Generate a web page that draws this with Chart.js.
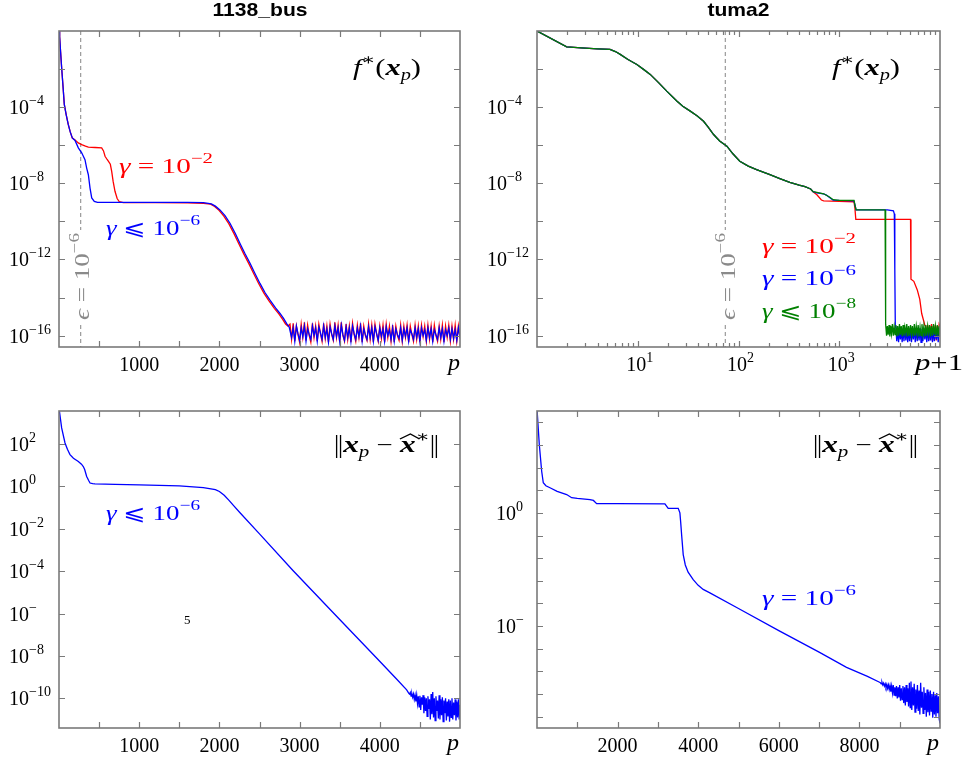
<!DOCTYPE html>
<html>
<head>
<meta charset="utf-8">
<script src="https://cdn.jsdelivr.net/npm/chart.js@4.4.1/dist/chart.umd.min.js"></script>
<style>
body { margin: 0; background: #fff; }
#wrap { position: relative; width: 966px; height: 764px; }
canvas { position: absolute; left: 0; top: 0; }
</style>
</head>
<body>
<div id="wrap">
<canvas id="c1" width="966" height="764"></canvas>
<canvas id="c2" width="966" height="764"></canvas>
<canvas id="c3" width="966" height="764"></canvas>
<canvas id="c4" width="966" height="764"></canvas>
</div>
<script>
// ---- data, y values stored as log10 ----
// 1138_bus, f*(x_p)
const busRedP = [0, 8, 20, 33, 50, 66, 90, 116, 140, 166, 200, 240, 283, 330, 366, 450, 532, 555, 574, 600, 615, 640, 657, 675, 698, 725, 752, 800, 1200, 1600, 1800, 1890, 1940, 1995, 2055, 2117, 2185, 2242, 2305, 2367, 2430, 2491, 2555, 2616, 2685, 2741, 2785, 2825, 2855];
const busRedLog = [1.0, -0.3, -1.1, -1.93, -2.9, -3.86, -4.4, -4.92, -5.3, -5.62, -5.72, -5.88, -5.97, -6.05, -6.1, -6.12, -6.14, -6.3, -6.58, -6.75, -6.84, -7.0, -7.37, -7.9, -8.42, -8.8, -8.97, -9.02, -9.02, -9.03, -9.05, -9.1, -9.22, -9.42, -9.72, -10.12, -10.67, -11.18, -11.72, -12.22, -12.77, -13.28, -13.77, -14.16, -14.57, -14.86, -15.12, -15.39, -15.5];
const busBlueP = [0, 8, 20, 33, 50, 66, 90, 116, 140, 166, 200, 241, 283, 324, 345, 366, 387, 408, 440, 480, 800, 1200, 1600, 1800, 1900, 1950, 2007, 2070, 2132, 2200, 2257, 2320, 2382, 2445, 2506, 2570, 2631, 2700, 2756, 2800, 2839, 2870];
const busBlueLog = [1.0, -0.3, -1.1, -1.93, -2.9, -3.86, -4.4, -4.92, -5.3, -5.62, -5.75, -6.14, -6.4, -6.76, -7.2, -7.55, -8.25, -8.77, -8.95, -9.0, -9.0, -9.0, -9.0, -9.02, -9.08, -9.2, -9.4, -9.7, -10.1, -10.65, -11.16, -11.7, -12.2, -12.75, -13.26, -13.75, -14.14, -14.55, -14.84, -15.1, -15.37, -15.55];
// noisy floor, iterations 2880, 2900, ... 5000
const busNoiseStart = 2880, busNoiseStep = 20;
const busRedNoise = [
  -15.4, -16.2, -15.35, -16.3, -15.5, -15.95, -16.35, -15.4, -16.1, -15.3,
  -16.25, -15.45, -16.0, -16.35, -15.35, -16.1, -15.5, -16.3, -15.4, -15.9,
  -16.3, -15.35, -16.15, -15.5, -16.35, -15.4, -15.95, -16.25, -15.3, -16.1,
  -15.45, -16.35, -15.3, -16.0, -16.3, -15.4, -16.2, -15.5, -16.35, -15.35,
  -15.95, -16.3, -15.45, -16.1, -15.35, -16.35, -15.5, -16.0, -16.25, -15.4,
  -16.2, -15.45, -16.35, -15.4, -15.9, -16.3, -15.5, -16.15, -15.45, -16.35,
  -15.4, -16.1, -15.5, -16.3, -15.45, -16.35, -15.5, -16.0, -16.25, -15.45,
  -16.3, -15.5, -16.1, -15.45, -16.35, -15.5, -15.95, -16.3, -15.45, -16.2,
  -15.5, -16.35, -15.45, -16.05, -15.5, -16.3, -15.45, -16.2, -15.5, -16.35,
  -15.45, -16.0, -16.3, -15.5, -16.2, -15.45, -16.35, -15.5, -16.1, -15.45,
  -16.3, -15.5, -16.2, -15.45, -16.3, -15.5, -16.15];
const busBlueNoise = [
  -15.55, -16.1, -15.6, -16.3, -15.5, -15.9, -16.25, -15.6, -16.05, -15.5,
  -16.3, -15.65, -15.95, -16.2, -15.5, -16.0, -15.6, -16.3, -15.55, -15.85,
  -16.2, -15.5, -16.1, -15.65, -16.35, -15.55, -15.9, -16.2, -15.5, -16.05,
  -15.6, -16.3, -15.45, -15.95, -16.25, -15.55, -16.1, -15.6, -16.3, -15.5,
  -15.9, -16.2, -15.6, -16.05, -15.5, -16.3, -15.65, -15.95, -16.2, -15.55,
  -16.1, -15.6, -16.3, -15.55, -15.9, -16.25, -15.6, -16.05, -15.65, -16.3,
  -15.55, -16.0, -15.7, -16.2, -15.6, -16.3, -15.65, -15.95, -16.15, -15.6,
  -16.25, -15.65, -16.05, -15.6, -16.3, -15.7, -15.9, -16.2, -15.6, -16.1,
  -15.65, -16.3, -15.6, -16.0, -15.7, -16.25, -15.6, -16.1, -15.65, -16.3,
  -15.7, -15.95, -16.2, -15.6, -16.1, -15.65, -16.3, -15.7, -16.0, -15.6,
  -16.2, -15.65, -16.15, -15.7, -16.25, -15.6, -16.05];

// tuma2, f*(x_p), x = p+1
const tumaX = [1, 1.97, 3, 4, 5.3, 6.0, 6.7, 8, 9.8, 11.5, 13.3, 16, 19.4, 24.4, 28, 33.2, 39, 45, 50, 56.6, 65, 76.7, 88, 103, 125, 151, 205, 257, 323, 400, 457, 520, 550];
const tumaLog = [0.0, -0.83, -0.9, -0.94, -0.97, -1.08, -1.23, -1.5, -1.76, -2.03, -2.28, -2.7, -3.16, -3.68, -3.95, -4.21, -4.46, -4.74, -5.05, -5.44, -5.78, -6.05, -6.45, -6.84, -7.1, -7.28, -7.55, -7.75, -7.95, -8.1, -8.18, -8.3, -8.44];
const tumaRedX = [600, 665, 700, 1000, 1400, 1430, 1460, 2000, 3000, 5100, 5150, 5500, 5950, 6300, 6580, 7080];
const tumaRedLog = [-8.6, -8.88, -8.92, -8.95, -8.97, -9.3, -9.9, -9.9, -9.9, -9.9, -13.04, -13.15, -13.6, -14.1, -14.84, -15.46];
const tumaBlueX = [600, 700, 745, 800, 870, 1000, 1400, 1440, 1470, 2000, 3000, 3450, 3520, 3560, 3600];
const tumaBlueLog = [-8.5, -8.55, -8.62, -8.75, -8.88, -8.9, -8.92, -9.2, -9.4, -9.4, -9.4, -9.45, -9.6, -12.5, -15.5];
const tumaGreenX = [600, 700, 800, 870, 1000, 1400, 1440, 1470, 2000, 2850, 2870, 2890];
const tumaGreenLog = [-8.48, -8.55, -8.72, -8.86, -8.9, -8.9, -9.2, -9.4, -9.4, -9.4, -12.5, -15.3];
const tumaNoiseX = [2900, 2950, 3000, 3060, 3120, 3180, 3240, 3300, 3370, 3440, 3510, 3580, 3650, 3720, 3800, 3880, 3960, 4040, 4120, 4210,
  4300, 4390, 4480, 4580, 4680, 4780, 4880, 4990, 5100, 5210, 5320, 5440, 5560, 5680, 5810, 5940, 6070, 6200, 6340, 6480,
  6620, 6770, 6920, 7070, 7230, 7390, 7550, 7720, 7890, 8060, 8240, 8420, 8610, 8800, 8990, 9190, 9390, 9600, 9810, 10000];
const tumaGreenNoise = [-15.4, -16.0, -15.5, -15.95, -15.45, -16.05, -15.5, -15.9, -15.4, -16.0,
  -15.55, -15.95, -15.45, -16.05, -15.5, -16.0, -15.4, -15.95, -15.5, -16.05,
  -15.45, -16.0, -15.55, -15.9, -15.4, -16.05, -15.5, -16.0, -15.45, -15.95,
  -15.5, -16.05, -15.4, -16.0, -15.5, -15.95, -15.45, -16.05, -15.55, -16.0,
  -15.4, -15.95, -15.5, -16.05, -15.45, -16.0, -15.5, -15.9, -15.45, -16.05,
  -15.5, -16.0, -15.4, -15.95, -15.5, -16.05, -15.45, -16.0, -15.5, -16.05];
const tumaBlueNoise = [-15.6, -16.3, -15.7, -16.35, -15.6, -16.2, -15.7, -16.35, -15.65, -16.3,
  -15.6, -16.25, -15.7, -16.35, -15.65, -16.3, -15.6, -16.35, -15.7, -16.2,
  -15.6, -16.35, -15.65, -16.3, -15.7, -16.25, -15.6, -16.35, -15.65, -16.3,
  -15.6, -16.2, -15.7, -16.35, -15.6, -16.3, -15.65, -16.25, -15.6, -16.35,
  -15.7, -16.3, -15.6, -16.2, -15.65, -16.35, -15.6, -15.55];
const tumaRedNoise = [-15.5, -16.1, -15.45, -16.25, -15.5, -16.0, -15.4, -16.3, -15.5, -16.15, -15.45, -16.25, -15.5, -16.1, -15.4, -15.5];

// 1138_bus, ||x_p - x^*||
const resBusP = [0, 33, 75, 105, 137, 180, 241, 280, 303, 320, 345, 370, 387, 420, 449, 700, 1000, 1500, 1800, 1950, 2000, 2060, 2120, 2180, 2257, 2500, 2920, 3500, 3960, 4200, 4335];
const resBusLog = [3.7, 2.76, 2.05, 1.75, 1.5, 1.33, 1.18, 1.05, 0.94, 0.8, 0.47, 0.28, 0.16, 0.13, 0.12, 0.1, 0.07, 0.03, -0.06, -0.15, -0.24, -0.42, -0.66, -0.92, -1.24, -2.24, -3.98, -6.28, -8.1, -9.05, -9.6];
const resBusNoiseStart = 4360, resBusNoiseStep = 10;
const resBusNoise = [
  -9.75, -9.8, -9.72, -9.9, -9.78, -9.95, -9.8, -10.05, -9.85, -10.15,
  -9.85, -10.25, -9.9, -10.4, -9.88, -10.55, -9.95, -10.3, -9.85, -10.7,
  -9.95, -10.6, -10.0, -10.85, -9.9, -10.5, -10.05, -11.0, -9.8, -10.75,
  -9.7, -10.9, -10.0, -11.05, -9.9, -10.6, -10.1, -10.95, -9.85, -11.0,
  -10.05, -10.8, -9.95, -11.1, -10.1, -10.7, -10.0, -11.05, -10.15, -10.85,
  -10.05, -11.1, -10.1, -10.9, -10.0, -11.0, -10.2, -10.8, -10.05, -11.05,
  -10.15, -10.9, -10.05, -11.0, -10.3];

// tuma2, ||x_p - x^*||
const resTumaP = [0, 57, 116, 156, 220, 322, 500, 736, 860, 1000, 1314, 1400, 1480, 2000, 3174, 3256, 3504, 3546, 3565, 3590, 3628, 3680, 3750, 3876, 4000, 4124, 4290, 5000, 6000, 7000, 7680, 8200, 8500];
const resTumaLog = [4.6, 3.02, 1.84, 1.33, 1.2, 1.11, 0.95, 0.81, 0.67, 0.64, 0.59, 0.55, 0.41, 0.41, 0.4, 0.2, 0.2, 0.0, -0.4, -1.0, -1.84, -2.3, -2.62, -2.95, -3.2, -3.38, -3.53, -4.22, -5.2, -6.15, -6.82, -7.22, -7.48];
const resTumaNoiseStart = 8520, resTumaNoiseStep = 20;
const resTumaNoise = [
  -7.5, -7.55, -7.48, -7.6, -7.52, -7.65, -7.55, -7.7, -7.58, -7.75,
  -7.6, -7.8, -7.62, -7.9, -7.65, -7.95, -7.6, -8.05, -7.7, -8.1,
  -7.65, -8.2, -7.7, -8.15, -7.6, -8.3, -7.75, -8.25, -7.65, -8.4,
  -7.7, -8.5, -7.6, -8.35, -7.75, -8.55, -7.5, -8.6, -7.45, -8.7,
  -7.7, -8.5, -7.55, -8.8, -7.8, -8.65, -7.6, -8.75, -7.85, -8.9,
  -7.5, -8.6, -7.9, -8.85, -7.7, -8.7, -7.95, -9.0, -7.8, -8.8,
  -7.9, -8.95, -7.85, -8.75, -8.0, -9.05, -7.9, -8.9, -8.05, -9.0,
  -7.95, -8.85, -8.1, -9.1, -9.3];

// ticks
const busTickX = [500, 1000, 1500, 2000, 2500, 3000, 3500, 4000, 4500];
const busLabelX = [1000, 2000, 3000, 4000];
const fTickExp = [-2, -4, -6, -8, -10, -12, -14, -16];
const fLabelExp = [-4, -8, -12, -16];
const tumaMajorX = [10, 100, 1000];
const tumaMajorExp = ['1', '2', '3'];
const tumaMinorX = [2, 3, 4, 5, 6, 7, 8, 9, 20, 30, 40, 50, 60, 70, 80, 90, 200, 300, 400, 500, 600, 700, 800, 900, 2000, 3000, 4000, 5000, 6000, 7000, 8000, 9000];
const resBusTickExp = [2, 0, -2, -4, -6, -8, -10];
const resBusLabel = ['2', '0', '\u22122', '\u22124', '\u2212', '\u22128', '\u221210'];
const resTumaTickX = [1000, 2000, 3000, 4000, 5000, 6000, 7000, 8000, 9000];
const resTumaLabelX = [2000, 4000, 6000, 8000];
const resTumaTickExp = [4, 3, 2, 1, 0, -1, -2, -3, -4, -5, -6, -7, -8, -9];
const resTumaLabelExp = [0, -5];
const resTumaLabel = ['0', '\u2212'];
const epsMarkBus = 270, epsMarkTuma = 74;

// ---- drawing helpers ----
const MATH = '"Liberation Serif", "DejaVu Serif", "DejaVu Sans", serif';
const fnt = (size, style) => (style ? style + ' ' : '') + size + 'px ' + MATH;
const RED = '#ff0000', BLUE = '#0000ff', GREEN = '#008000', GREY = '#8a8a8a';

function rich(ctx, parts, x, y, o) {
  o = o || {};
  let total = 0;
  const ws = parts.map(p => {
    if (p[3] === 'bars') { total += 7; return 7; }
    ctx.font = p[1];
    const w = ctx.measureText(p[0]).width;
    total += w;
    return w;
  });
  const s = o.width ? o.width / total : 1;
  let x0 = x;
  if (o.align === 'center') x0 = x - total * s / 2;
  if (o.align === 'right') x0 = x - total * s;
  ctx.save();
  ctx.translate(x0, y);
  ctx.scale(s, 1);
  ctx.textAlign = 'left';
  ctx.textBaseline = 'alphabetic';
  let cx = 0;
  parts.forEach((p, i) => {
    if (p[3] === 'bars') {
      ctx.beginPath();
      ctx.moveTo(cx + 2, -17); ctx.lineTo(cx + 2, 6);
      ctx.moveTo(cx + 5, -17); ctx.lineTo(cx + 5, 6);
      ctx.lineWidth = 1;
      ctx.strokeStyle = ctx.fillStyle;
      ctx.stroke();
      cx += ws[i];
      return;
    }
    ctx.font = p[1];
    ctx.fillText(p[0], cx, p[2] || 0);
    if (p[3] === 'hat') {
      ctx.beginPath();
      ctx.moveTo(cx, -13);
      ctx.lineTo(cx + ws[i] / 2 + 2, -18);
      ctx.lineTo(cx + ws[i] + 3, -13);
      ctx.lineWidth = 1.1;
      ctx.strokeStyle = ctx.fillStyle;
      ctx.stroke();
    }
    cx += ws[i];
  });
  ctx.restore();
}

function pow10(ctx, exp, x, y, align) {
  rich(ctx, [['10', fnt(20)], [exp, fnt(14), -9]], x, y, { align: align });
}

function frame(chart, t) {
  const { ctx, chartArea: a, scales: { x, y } } = chart;
  ctx.save();
  ctx.strokeStyle = '#7a7a7a';
  ctx.lineWidth = 1.2;
  ctx.beginPath();
  const vx = (v, len) => {
    const px = Math.round(x.getPixelForValue(v)) + 0.5;
    ctx.moveTo(px, a.bottom); ctx.lineTo(px, a.bottom - len);
    ctx.moveTo(px, a.top); ctx.lineTo(px, a.top + len);
  };
  t.xTicks.forEach(v => vx(v, 6));
  (t.xMinor || []).forEach(v => vx(v, 4));
  t.yTicks.forEach(e => {
    const py = Math.round(y.getPixelForValue(Math.pow(10, e))) + 0.5;
    ctx.moveTo(a.left, py); ctx.lineTo(a.left + 6, py);
    ctx.moveTo(a.right, py); ctx.lineTo(a.right - 6, py);
  });
  ctx.stroke();
  ctx.lineWidth = 1.6;
  ctx.strokeRect(a.left, a.top, a.right - a.left, a.bottom - a.top);
  ctx.restore();
}

function dashed(chart, v) {
  const { ctx, chartArea: a, scales: { x } } = chart;
  const px = x.getPixelForValue(v);
  ctx.save();
  ctx.strokeStyle = '#9a9a9a';
  ctx.lineWidth = 1.2;
  ctx.setLineDash([4, 3]);
  ctx.beginPath();
  ctx.moveTo(px, a.top); ctx.lineTo(px, a.bottom);
  ctx.stroke();
  ctx.restore();
}

function epsLabel(ctx, bx, by) {
  ctx.save();
  ctx.translate(bx, by);
  ctx.rotate(-Math.PI / 2);
  ctx.fillStyle = '#fff';
  ctx.fillRect(-3, -23, 93, 27);
  ctx.fillStyle = GREY;
  rich(ctx, [['\u03f5', fnt(20, 'italic')], [' = ', fnt(20)], ['10', fnt(20)], ['\u22126', fnt(14), -10]], 0, 0, { width: 87 });
  ctx.restore();
}

function gammaLabel(ctx, rel, exp, color, x, y) {
  ctx.fillStyle = color;
  rich(ctx, [['\u03b3', fnt(21, 'italic')], [rel, fnt(21)], ['10', fnt(21)], [exp, fnt(15), -10]], x, y, { width: 94 });
}

function fLabel(ctx, x, y) {
  ctx.fillStyle = '#000';
  rich(ctx, [['f', fnt(24, 'italic')], ['\u2217', fnt(16), -10], ['(', fnt(24)], ['x', fnt(24, 'italic bold')], ['p', fnt(16, 'italic'), 5], [')', fnt(24)]], x, y, { width: 68 });
}

function normLabel(ctx, x, y) {
  ctx.fillStyle = '#000';
  rich(ctx, [['', '', 0, 'bars'], ['x', fnt(24, 'italic bold')], ['p', fnt(16, 'italic'), 5], [' \u2212 ', fnt(22)],
    ['x', fnt(24, 'italic bold'), 0, 'hat'], ['\u2217', fnt(16), -10], ['', '', 0, 'bars']], x, y, { width: 105 });
}

function title(ctx, text, cx, w) {
  ctx.fillStyle = '#000';
  rich(ctx, [[text, 'bold 19px "Liberation Sans", Arial, sans-serif']], cx, 16, { align: 'center', width: w });
}

function pts(xs, logs) { return xs.map((v, i) => ({ x: v, y: Math.pow(10, logs[i]) })); }
function stepPts(start, step, logs) { return logs.map((l, i) => ({ x: start + i * step, y: Math.pow(10, l) })); }
function tailPts(xs, logs) { const off = xs.length - logs.length; return logs.map((l, i) => ({ x: xs[off + i], y: Math.pow(10, l) })); }
function line(data, color) { return { data: data, borderColor: color, borderWidth: 1.3, pointRadius: 0, fill: false }; }

function makeChart(id, area, xs, ys, datasets, deco) {
  return new Chart(document.getElementById(id), {
    type: 'line',
    data: { datasets: datasets },
    options: {
      responsive: false,
      animation: false,
      events: [],
      layout: { padding: { left: area[0], top: area[1], right: 966 - area[2], bottom: 764 - area[3] } },
      plugins: { legend: { display: false }, tooltip: { enabled: false } },
      scales: { x: Object.assign({ display: false }, xs), y: Object.assign({ display: false }, ys) }
    },
    plugins: [deco]
  });
}

// ---- 1138_bus f* ----
makeChart('c1', [59, 31, 460, 347],
  { type: 'linear', min: 0, max: 5000 },
  { type: 'logarithmic', min: Math.pow(10, -16.6), max: 1 },
  [line(pts(busBlueP, busBlueLog).concat(stepPts(busNoiseStart, busNoiseStep, busBlueNoise)), BLUE),
   line(pts(busRedP, busRedLog).concat(stepPts(busNoiseStart, busNoiseStep, busRedNoise)), RED)],
  {
    id: 'deco1',
    beforeDatasetsDraw(chart) { dashed(chart, epsMarkBus); },
    afterDraw(chart) {
      const ctx = chart.ctx, x = chart.scales.x, y = chart.scales.y;
      frame(chart, { xTicks: busTickX, yTicks: fTickExp });
      ctx.fillStyle = '#000';
      busLabelX.forEach(v => rich(ctx, [[String(v), fnt(20)]], x.getPixelForValue(v), 371, { align: 'center' }));
      fLabelExp.forEach(e => pow10(ctx, '\u2212' + (-e), 9, y.getPixelForValue(Math.pow(10, e)) + 7));
      rich(ctx, [['p', fnt(24, 'italic')]], 448, 370);
      title(ctx, '1138_bus', 260, 95);
      fLabel(ctx, 353, 75);
      gammaLabel(ctx, ' = ', '\u22122', RED, 119, 173);
      gammaLabel(ctx, ' \u2a7d ', '\u22126', BLUE, 106, 235);
      epsLabel(ctx, 89, 320);
    }
  });

// ---- tuma2 f* ----
makeChart('c2', [537, 31, 940, 347],
  { type: 'logarithmic', min: 1, max: 10000 },
  { type: 'logarithmic', min: Math.pow(10, -16.6), max: 1 },
  [line(pts(tumaX.concat(tumaGreenX), tumaLog.concat(tumaGreenLog)).concat(tailPts(tumaNoiseX, tumaGreenNoise)), GREEN),
   line(pts(tumaX.concat(tumaBlueX), tumaLog.concat(tumaBlueLog)).concat(tailPts(tumaNoiseX, tumaBlueNoise)), BLUE),
   line(pts(tumaX.concat(tumaRedX), tumaLog.concat(tumaRedLog)).concat(tailPts(tumaNoiseX, tumaRedNoise)), RED)],
  {
    id: 'deco2',
    beforeDatasetsDraw(chart) { dashed(chart, epsMarkTuma); },
    afterDraw(chart) {
      const ctx = chart.ctx, x = chart.scales.x, y = chart.scales.y;
      frame(chart, { xTicks: tumaMajorX, xMinor: tumaMinorX, yTicks: fTickExp });
      ctx.fillStyle = '#000';
      tumaMajorX.forEach((v, i) => pow10(ctx, tumaMajorExp[i], x.getPixelForValue(v) + 2, 371, 'center'));
      fLabelExp.forEach(e => pow10(ctx, '\u2212' + (-e), 487, y.getPixelForValue(Math.pow(10, e)) + 7));
      rich(ctx, [['p', fnt(24, 'italic')], ['+', fnt(24)], ['1', fnt(24)]], 915, 370, { width: 48 });
      title(ctx, 'tuma2', 738.5, 62);
      fLabel(ctx, 832, 75);
      gammaLabel(ctx, ' = ', '\u22122', RED, 762, 253);
      gammaLabel(ctx, ' = ', '\u22126', BLUE, 762, 285);
      gammaLabel(ctx, ' \u2a7d ', '\u22128', GREEN, 762, 318);
      epsLabel(ctx, 735, 320);
    }
  });

// ---- 1138_bus residual ----
makeChart('c3', [59, 411, 460, 728],
  { type: 'linear', min: 0, max: 5000 },
  { type: 'logarithmic', min: Math.pow(10, -11.4), max: Math.pow(10, 3.56) },
  [line(pts(resBusP, resBusLog).concat(stepPts(resBusNoiseStart, resBusNoiseStep, resBusNoise)), BLUE)],
  {
    id: 'deco3',
    afterDraw(chart) {
      const ctx = chart.ctx, x = chart.scales.x, y = chart.scales.y;
      frame(chart, { xTicks: busTickX, yTicks: resBusTickExp });
      ctx.fillStyle = '#000';
      busLabelX.forEach(v => rich(ctx, [[String(v), fnt(20)]], x.getPixelForValue(v), 752, { align: 'center' }));
      resBusTickExp.forEach((e, i) => pow10(ctx, resBusLabel[i], 9, y.getPixelForValue(Math.pow(10, e)) + 7));
      rich(ctx, [['5', fnt(13)]], 184, 624);
      rich(ctx, [['p', fnt(24, 'italic')]], 447, 750);
      normLabel(ctx, 334, 452);
      gammaLabel(ctx, ' \u2a7d ', '\u22126', BLUE, 106, 520);
    }
  });

// ---- tuma2 residual ----
makeChart('c4', [537, 411, 940, 728],
  { type: 'linear', min: 0, max: 10000 },
  { type: 'logarithmic', min: Math.pow(10, -9.5), max: Math.pow(10, 4.5) },
  [line(pts(resTumaP, resTumaLog).concat(stepPts(resTumaNoiseStart, resTumaNoiseStep, resTumaNoise)), BLUE)],
  {
    id: 'deco4',
    afterDraw(chart) {
      const ctx = chart.ctx, x = chart.scales.x, y = chart.scales.y;
      frame(chart, { xTicks: resTumaTickX, yTicks: resTumaTickExp });
      ctx.fillStyle = '#000';
      resTumaLabelX.forEach(v => rich(ctx, [[String(v), fnt(20)]], x.getPixelForValue(v), 752, { align: 'center' }));
      resTumaLabelExp.forEach((e, i) => pow10(ctx, resTumaLabel[i], 496, y.getPixelForValue(Math.pow(10, e)) + 7));
      rich(ctx, [['p', fnt(24, 'italic')]], 927, 750);
      normLabel(ctx, 813, 452);
      gammaLabel(ctx, ' = ', '\u22126', BLUE, 762, 605);
    }
  });
</script>
</body>
</html>
